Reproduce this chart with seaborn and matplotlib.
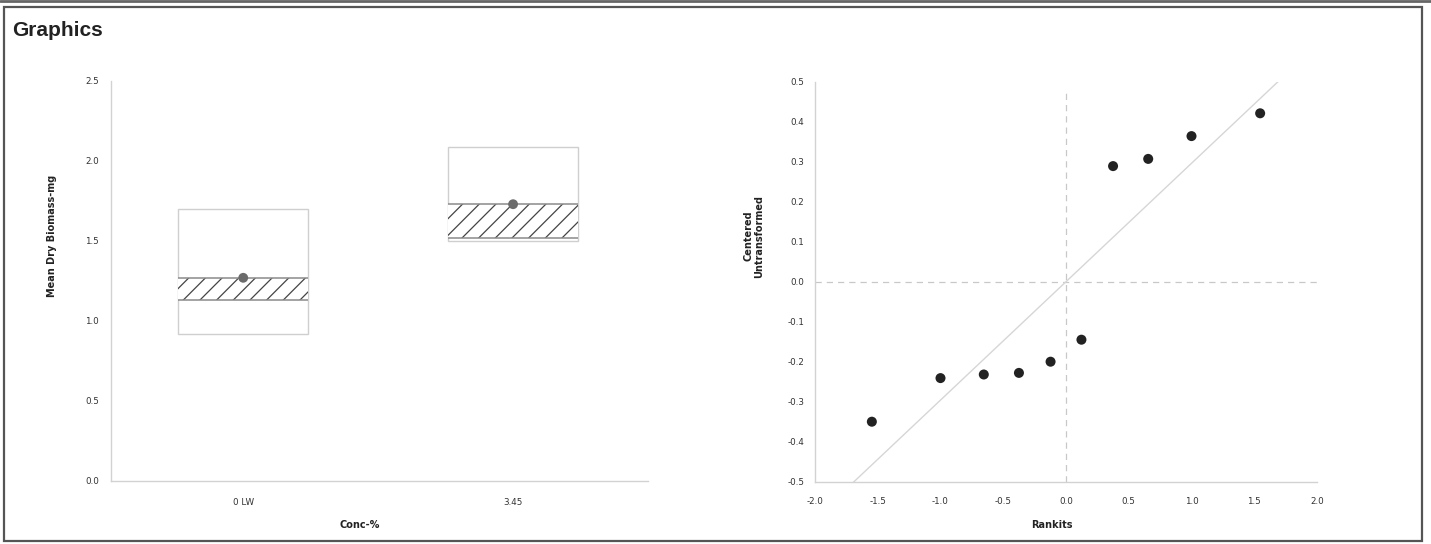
import matplotlib
matplotlib.use("Agg")
import matplotlib.pyplot as plt
import seaborn as sns
import numpy as np
import pandas as pd
from matplotlib.ticker import MultipleLocator, FixedLocator, FormatStrFormatter
from matplotlib.patches import Rectangle
from matplotlib.lines import Line2D

# ---------------- data ----------------
conc_labels = ["0 LW", "3.45"]
mean_biomass = [1.27, 1.73]
band_low = [1.13, 1.52]
band_high = [1.27, 1.73]
box_low = [0.92, 1.50]
box_high = [1.70, 2.09]

rankits = [-1.547, -1.000, -0.655, -0.375, -0.123, 0.123, 0.375, 0.655, 1.000, 1.547]
centered = [-0.350, -0.241, -0.232, -0.228, -0.200, -0.145, 0.289, 0.307, 0.364, 0.421]
ref_slope = 0.296
ref_x = [-2.0, 2.0]

# ---------------- style ----------------
sns.set_theme(style="white")
plt.rcParams['font.family'] = ['DejaVu Sans']
plt.rcParams['axes.unicode_minus'] = False
plt.rcParams['hatch.linewidth'] = 0.9

W, H = 1431, 544
fig = plt.figure(figsize=(W / 100, H / 100), dpi=100)


def ax_rect(x0, y0, x1, y1):
    return [x0 / W, 1 - y1 / H, (x1 - x0) / W, (y1 - y0) / H]


axis_col = '#d2d2d2'
lab_col = '#333333'
tick_fs = 6.3

ax1 = fig.add_axes(ax_rect(111, 81, 648, 481))
ax2 = fig.add_axes(ax_rect(815, 81.7, 1317, 481.7))

# ---------------- left chart ----------------
pos = np.arange(len(conc_labels))
bw = 0.48
ax1.bar(pos, np.subtract(box_high, box_low), bottom=box_low, width=bw,
        color='white', edgecolor='#cfcfcf', linewidth=1.0, zorder=2)
ax1.bar(pos, np.subtract(band_high, band_low), bottom=band_low, width=bw,
        color='white', edgecolor='#444444', hatch='//', linewidth=0, zorder=3)
ax1.hlines(band_low, pos - bw / 2, pos + bw / 2, color='#8a8a8a', lw=1.1, zorder=4)
ax1.hlines(band_high, pos - bw / 2, pos + bw / 2, color='#8a8a8a', lw=1.1, zorder=4)
df1 = pd.DataFrame({'pos': pos, 'mean': mean_biomass, 'conc': conc_labels})
sns.scatterplot(data=df1, x='pos', y='mean', ax=ax1, color='#6b6b6b', s=50,
                edgecolor='none', zorder=5, legend=False)

ax1.set_xlim(-0.49, 1.5)
ax1.set_ylim(0, 2.5)
ax1.set_xticks(pos)
ax1.set_xticklabels(conc_labels)
ax1.xaxis.set_minor_locator(FixedLocator([0.5, 1.5]))
ax1.yaxis.set_major_locator(MultipleLocator(0.5))
ax1.yaxis.set_minor_locator(MultipleLocator(0.1))
ax1.yaxis.set_major_formatter(FormatStrFormatter('%.1f'))
ax1.tick_params(axis='x', which='major', length=0, pad=12, labelsize=tick_fs, labelcolor=lab_col)
ax1.tick_params(axis='x', which='minor', length=4, direction='inout', color=axis_col, width=1)
ax1.tick_params(axis='y', which='major', length=5, direction='inout', color=axis_col,
                pad=6, labelsize=tick_fs, labelcolor=lab_col, width=1)
ax1.tick_params(axis='y', which='minor', length=3, direction='inout', color=axis_col, width=0.8)
for s in ['top', 'right']:
    ax1.spines[s].set_visible(False)
for s in ['left', 'bottom']:
    ax1.spines[s].set_color(axis_col)
    ax1.spines[s].set_linewidth(1.0)
ax1.set_xlabel('')
ax1.set_ylabel('')

# ---------------- right chart ----------------
ax2.axhline(0, color='#c8c8c8', lw=0.9, ls=(0, (5, 4)), zorder=1)
ax2.axvline(0, ymin=0, ymax=0.98, color='#c8c8c8', lw=0.9, ls=(0, (5, 4)), zorder=1)
sns.lineplot(x=ref_x, y=[ref_slope * v for v in ref_x], ax=ax2, color='#d6d6d6', lw=1.0, zorder=2)
sns.scatterplot(x=rankits, y=centered, ax=ax2, color='#222222', s=52, edgecolor='none',
                zorder=5, legend=False)
ax2.set_xlim(-2, 2)
ax2.set_ylim(-0.5, 0.5)
ax2.xaxis.set_major_locator(MultipleLocator(0.5))
ax2.yaxis.set_major_locator(MultipleLocator(0.1))
ax2.yaxis.set_minor_locator(MultipleLocator(0.02))
ax2.xaxis.set_major_formatter(FormatStrFormatter('%.1f'))
ax2.yaxis.set_major_formatter(FormatStrFormatter('%.1f'))
ax2.tick_params(axis='x', which='major', length=4, direction='inout', color=axis_col,
                pad=9, labelsize=tick_fs, labelcolor=lab_col, width=1)
ax2.tick_params(axis='y', which='major', length=5, direction='inout', color=axis_col,
                pad=5, labelsize=tick_fs, labelcolor=lab_col, width=1)
ax2.tick_params(axis='y', which='minor', length=3, direction='inout', color=axis_col, width=0.7)
for s in ['top', 'right']:
    ax2.spines[s].set_visible(False)
for s in ['left', 'bottom']:
    ax2.spines[s].set_color(axis_col)
    ax2.spines[s].set_linewidth(1.0)
ax2.set_xlabel('')
ax2.set_ylabel('')

# ---------------- texts ----------------
fig.text(12 / W, 1 - 30 / H, 'Graphics', fontsize=15, fontweight='bold',
         family=['Liberation Sans', 'DejaVu Sans'], color='#222222', va='center', ha='left')
fig.text(52 / W, 1 - 236 / H, 'Mean Dry Biomass-mg', rotation=90, fontsize=7,
         fontweight='bold', color='#222222', ha='center', va='center')
fig.text(360 / W, 1 - 525 / H, 'Conc-%', fontsize=7, fontweight='bold',
         color='#222222', ha='center', va='center')
fig.text(754 / W, 1 - 236 / H, 'Centered\nUntransformed', rotation=90, fontsize=7,
         fontweight='bold', color='#222222', ha='center', va='center', linespacing=1.1)
fig.text(1052 / W, 1 - 525 / H, 'Rankits', fontsize=7, fontweight='bold',
         color='#222222', ha='center', va='center')

# ---------------- frame ----------------
fig.add_artist(Rectangle((3.5 / W, 1 - 541 / H), 1418.5 / W, 534 / H, transform=fig.transFigure,
                         fill=False, edgecolor='#555555', lw=1.6))
fig.add_artist(Line2D([0, 1], [1 - 1.2 / H, 1 - 1.2 / H], transform=fig.transFigure,
                      color='#666666', lw=2.0))

fig.savefig('out.png', dpi=100)
